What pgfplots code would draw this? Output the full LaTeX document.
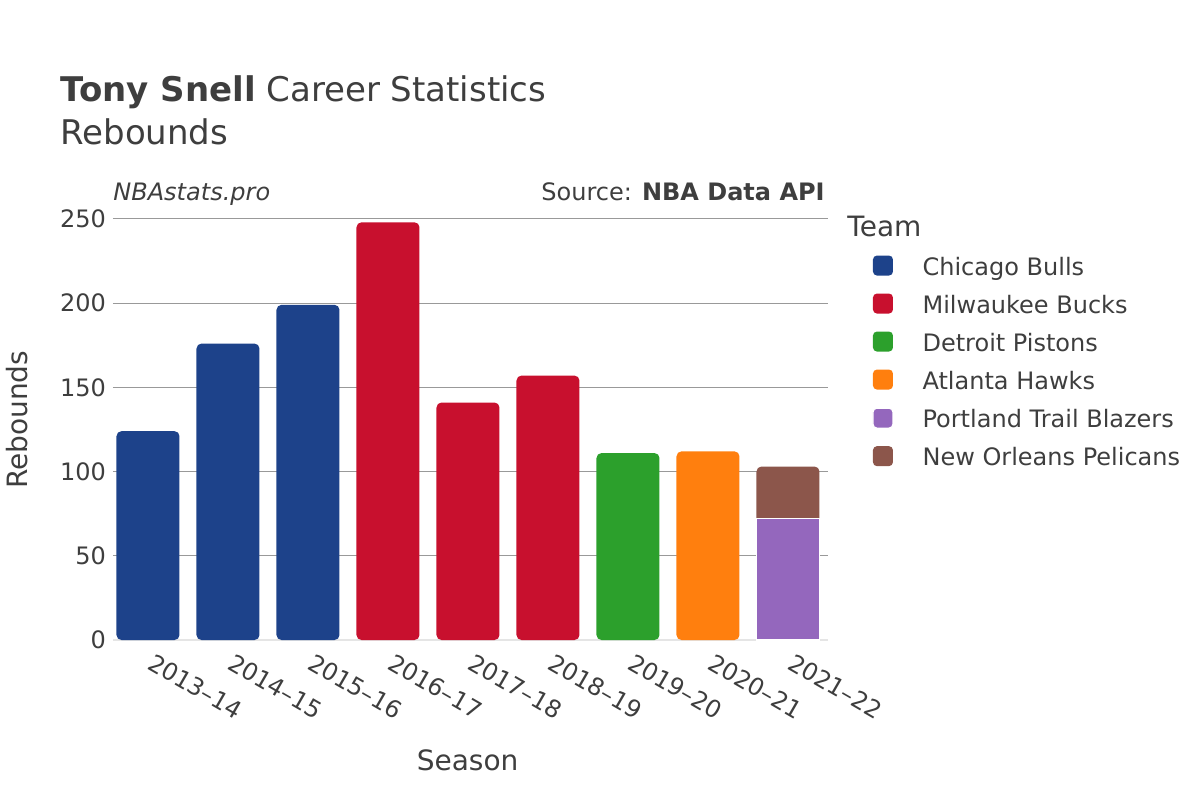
\documentclass[border=0pt]{standalone}
\usepackage{pgfplots}
\pgfplotsset{compat=1.18}
\usepackage{fontspec}
\setmainfont{DejaVu Sans}

\definecolor{txt}{RGB}{62,62,62}
\definecolor{bulls}{RGB}{29,66,138}
\definecolor{bucks}{RGB}{200,16,46}
\definecolor{pistons}{RGB}{44,160,44}
\definecolor{hawks}{RGB}{255,127,14}
\definecolor{blazers}{RGB}{148,103,189}
\definecolor{pelicans}{RGB}{140,86,75}

\begin{document}
\begin{tikzpicture}[every node/.style={text=txt}]
\useasboundingbox (0,0) rectangle (600pt,400pt);

% title block
\node[anchor=base west, inner sep=0pt, font=\fontsize{17}{19}\selectfont] at (30pt,349pt) {\textbf{Tony Snell} Career Statistics};
\node[anchor=base west, inner sep=0pt, font=\fontsize{17}{19}\selectfont] at (30pt,327.5pt) {Rebounds};
\node[anchor=base west, inner sep=0pt, font=\fontsize{12}{14}\selectfont\itshape] at (56.5pt,300pt) {NBAstats.pro};
\node[anchor=base east, inner sep=0pt, font=\fontsize{12}{14}\selectfont] at (412.5pt,300pt) {Source: \textbf{NBA Data API}};
\node[anchor=base west, inner sep=0pt, font=\fontsize{14}{16}\selectfont] at (423.5pt,282pt) {Team};

\begin{axis}[
    at={(56.5pt,80pt)}, anchor=south west,
    scale only axis,
    width=357.5pt, height=215pt,
    ybar, bar width=31.5pt, bar shift=0pt,
    xmin=-0.4375, xmax=8.5,
    ymin=0, ymax=255.3,
    axis line style={draw=none},
    tick style={draw=none},
    /pgf/number format/assume math mode=true,
    xtick={0,...,8},
    xticklabels={2013–14,2014–15,2015–16,2016–17,2017–18,2018–19,2019–20,2020–21,2021–22},
    xticklabel style={rotate=-30, anchor=north west, xshift=0.5pt, yshift=3.5pt, font=\fontsize{12}{14}\selectfont, text=txt},
    ytick={50,100,...,250},
    extra y ticks={0},
    extra y tick style={grid style={color=black!10, line width=1.2pt}},
    yticklabel style={font=\fontsize{12}{14}\selectfont, text=txt},
    ymajorgrids,
    grid style={color=black!40, line width=0.5pt},
    xlabel={Season},
    ylabel={Rebounds},
    xlabel style={at={(axis description cs:0.496,-0.279)}, anchor=center, font=\fontsize{14}{16}\selectfont, text=txt},
    ylabel style={at={(axis description cs:-0.134,0.512)}, anchor=center, font=\fontsize{14}{16}\selectfont, text=txt},
    legend style={at={(axis description cs:1.0615,0.895)}, anchor=north west, draw=none, fill=none,
        inner sep=0pt, row sep=6.7pt,
        nodes={inner sep=0pt, text height=8.5pt, text depth=2.5pt, font=\fontsize{12}{14}\selectfont, text=txt}},
    legend cell align=left,
    legend image code/.code={
        \fill[rounded corners=2pt] (0pt,-3.2pt) rectangle (10pt,6.8pt);
        \path (24.5pt,0pt);
    },
]
\addplot[fill=bulls, draw=none, rounded corners=2.5pt] coordinates {(0,124) (1,176) (2,199)};
\addplot[fill=bucks, draw=none, rounded corners=2.5pt] coordinates {(3,248) (4,141) (5,157)};
\addplot[fill=pistons, draw=none, rounded corners=2.5pt] coordinates {(6,111)};
\addplot[fill=hawks, draw=none, rounded corners=2.5pt] coordinates {(7,112)};
\addplot[fill=pelicans, draw=none, rounded corners=2.5pt, forget plot] coordinates {(8,103)};
\addplot[fill=blazers, draw=white, line width=0.6pt] coordinates {(8,72)};
\addlegendimage{fill=pelicans, draw=none}
\legend{Chicago Bulls, Milwaukee Bucks, Detroit Pistons, Atlanta Hawks, Portland Trail Blazers, New Orleans Pelicans}
\end{axis}
\end{tikzpicture}
\end{document}
